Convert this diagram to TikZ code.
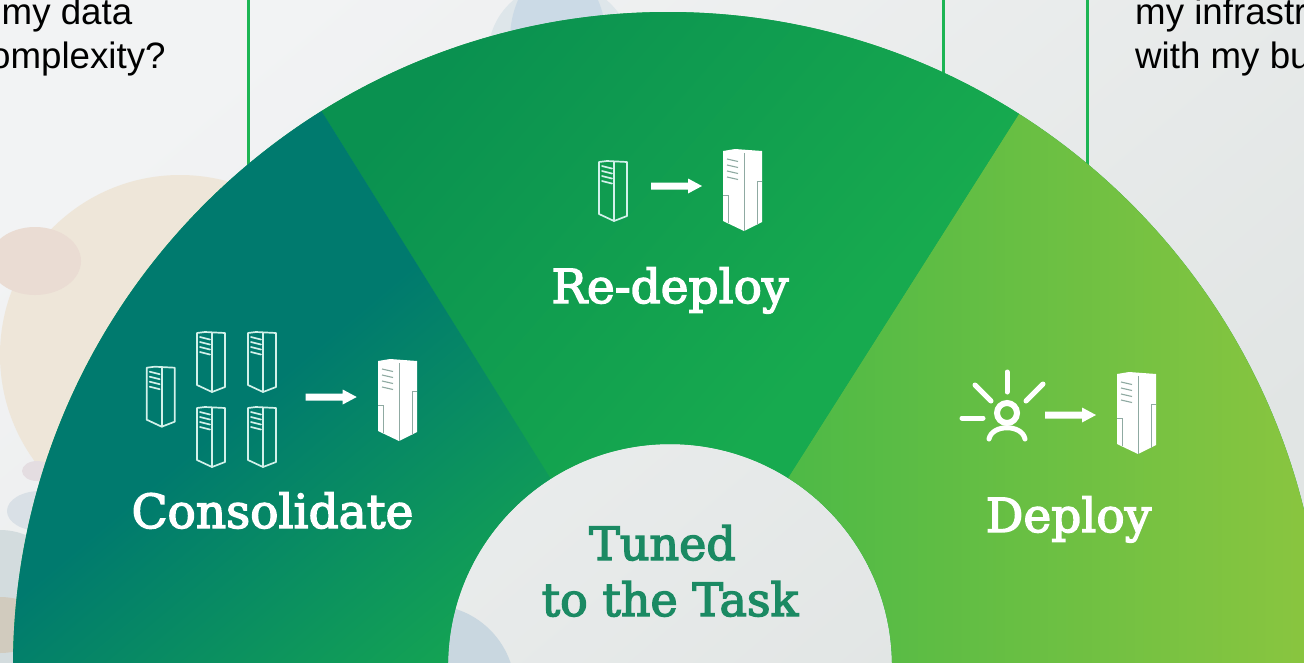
\documentclass[tikz,border=0pt]{standalone}
\usepackage{fontspec}
\setmainfont{Liberation Sans}
\newfontfamily\slabfont[FakeBold=3]{DejaVu Serif}
\definecolor{bglight}{HTML}{F2F3F4}
\definecolor{bgdark}{HTML}{E1E5E4}
\definecolor{linec}{HTML}{1DB554}
\definecolor{tealc}{HTML}{007A6E}
\definecolor{greenmid}{HTML}{17AA4F}
\definecolor{topmid}{HTML}{0A9150}
\definecolor{limea}{HTML}{2DB34A}
\definecolor{limeb}{HTML}{8CC63F}
\definecolor{titlec}{HTML}{1B8A63}
\definecolor{iconline}{HTML}{D2F1EA}
\definecolor{icongrey}{HTML}{8FAAA2}
\definecolor{blobtopa}{HTML}{DEE6EA}
\definecolor{blobtopb}{HTML}{CBDAE6}
\definecolor{blobpeach}{HTML}{EEE6D9}
\definecolor{blobpink}{HTML}{EADCD3}
\definecolor{bloblav}{HTML}{E4DDE1}
\definecolor{blobblue}{HTML}{D9E0E6}
\definecolor{bloblow}{HTML}{D3DCDE}
\definecolor{blobbeige}{HTML}{D1CBBE}
\definecolor{blobhub}{HTML}{C9D7E0}
\pgfdeclareverticalshading{leftgrad}{100bp}{color(0bp)=(tealc); color(48bp)=(tealc); color(72bp)=(greenmid); color(100bp)=(greenmid)}
\pgfdeclareverticalshading{midgrad}{100bp}{color(0bp)=(topmid); color(25bp)=(topmid); color(58bp)=(greenmid); color(100bp)=(greenmid)}
\pgfdeclarehorizontalshading{rightgrad}{100bp}{color(0bp)=(limea); color(75bp)=(limeb); color(100bp)=(limeb)}
\tikzset{
  x=1pt,y=-1pt,
  askline/.style={draw=linec,line width=3pt},
  asktext/.style={font=\fontsize{36.7}{42}\selectfont,text=black,anchor=base west,inner sep=0pt},
  slabtext/.style={font=\slabfont\fontsize{47}{54}\selectfont,text=white,anchor=base,inner sep=0pt},
  hubtext/.style={font=\slabfont\fontsize{46}{54}\selectfont,text=titlec,anchor=base,inner sep=0pt},
  srvline/.style={draw=iconline,line width=1.7pt,line join=round,line cap=round},
  pics/srvo/.style={code={
    \draw[srvline] (0,1) -- (8,0) -- (28,1) -- (28,55) -- (15,60) -- (0,53) -- cycle;
    \draw[srvline] (15,1) -- (15,60);
    \foreach \yy in {5,10,15,20}{\draw[srvline] (3,\yy) -- (13,\yy+2.5);}
  }},
  pics/srvf/.style={code={
    \fill[white] (0,2) -- (12,0) -- (39,2) -- (39,73) -- (21,82) -- (0,72) -- cycle;
    \draw[icongrey,line width=.8pt] (21,4) -- (21,82);
    \draw[icongrey,line width=.8pt] (0,46) -- (5,46) -- (5,74);
    \draw[icongrey,line width=.8pt] (39,32) -- (34.5,32) -- (34.5,76);
    \foreach \yy in {10,16,22,28}{\draw[icongrey,line width=1.1pt] (4,\yy) -- (15,\yy+2.5);}
  }},
  pics/arrowglyph/.style={code={
    \fill[white] (0,-3.5) -- (37,-3.5) -- (37,-7.5) -- (51,0) -- (37,7.5) -- (37,3.5) -- (0,3.5) -- cycle;
  }},
  rayline/.style={draw=white,line width=5pt,line cap=round},
}
\begin{document}
\begin{tikzpicture}
\useasboundingbox (0,0) rectangle (1304,662);
\shade[top color=bglight,bottom color=bgdark,shading angle=40] (0,0) rectangle (1304,662);
% faint background blobs
\begin{scope}
\clip (0,0) rectangle (1304,662);
\fill[blobtopa] (560,55) circle (72);
\fill[blobtopb] (558,40) ellipse (48 and 72);
\fill[blobpeach] (180,355) circle (180);
\fill[blobpink] (35,261) ellipse (46 and 34);
\fill[bloblav] (37,471) ellipse (15 and 10);
\fill[blobblue] (40,511) ellipse (33 and 20);
\fill[bloblow] (0,625) ellipse (80 and 95);
\fill[blobbeige] (0,625) ellipse (45 and 28);
\fill[blobhub] (430,690) circle (85);
\end{scope}
% question text and rules
\node[asktext] (t1) at (1.5,24) {my data};
\node[asktext] (t2) at (-10,68) {omplexity?};
\node[asktext] (t3) at (1135,24) {my infrastr};
\node[asktext] (t4) at (1135,68) {with my bu};
\coordinate (l1a) at (248,0); \coordinate (l1b) at (248,166);
\coordinate (l2a) at (943,0); \coordinate (l2b) at (943,76);
\coordinate (l3a) at (1087,0); \coordinate (l3b) at (1087,166);
\draw[askline] (l1a) -- (l1b);
\draw[askline] (l2a) -- (l2b);
\draw[askline] (l3a) -- (l3b);
% wheel
\begin{scope}[even odd rule]
\clip (668,667) circle (655) (670,666) circle (222);
\fill[greenmid] (0,0) rectangle (1304,662);
\begin{scope}
\clip (668,667) -- (1088,5) -- (1400,5) -- (1400,700) -- (668,700) -- cycle;
\shade[shading=rightgrad] (780,0) rectangle (1330,700);
\end{scope}
\begin{scope}
\clip (668,667) -- (253,1) -- (1088,5) -- cycle;
\shade[shading=midgrad,shading angle=-131] (300,0) rectangle (1050,700);
\end{scope}
\begin{scope}
\clip (668,667) -- (253,1) -- (-100,1) -- (-100,700) -- (668,700) -- cycle;
\shade[shading=leftgrad,shading angle=-140] (-100,0) rectangle (700,800);
\end{scope}
\end{scope}
% icons
\pic at (146.7,366.7) {srvo};
\pic at (197,332) {srvo};
\pic at (248,332) {srvo};
\pic at (197,407) {srvo};
\pic at (248,407) {srvo};
\pic at (305.7,397) {arrowglyph};
\pic at (378,359) {srvf};
\pic at (599,161) {srvo};
\pic at (651,186) {arrowglyph};
\pic at (723,149) {srvf};
\pic at (1045,415) {arrowglyph};
\pic at (1117,372) {srvf};
% person with rays
\draw[draw=white,line width=6pt] (1007,413) circle (10);
\draw[rayline] (989,439) .. controls (992,424) and (1022,424) .. (1025,439);
\draw[rayline] (1007,372) -- (1007,392);
\draw[rayline] (975,385) -- (991,401);
\draw[rayline] (1043,384) -- (1026,401);
\draw[rayline] (962,418) -- (983,418);
% labels
\node[slabtext] (n1) at (272.5,528) {Consolidate};
\node[slabtext] (n2) at (670,303) {Re-deploy};
\node[slabtext] (n3) at (1068.5,532) {Deploy};
\node[hubtext] (n4) at (662.5,560) {Tuned};
\node[hubtext] (n5) at (670,616) {to the Task};
\end{tikzpicture}
\end{document}
